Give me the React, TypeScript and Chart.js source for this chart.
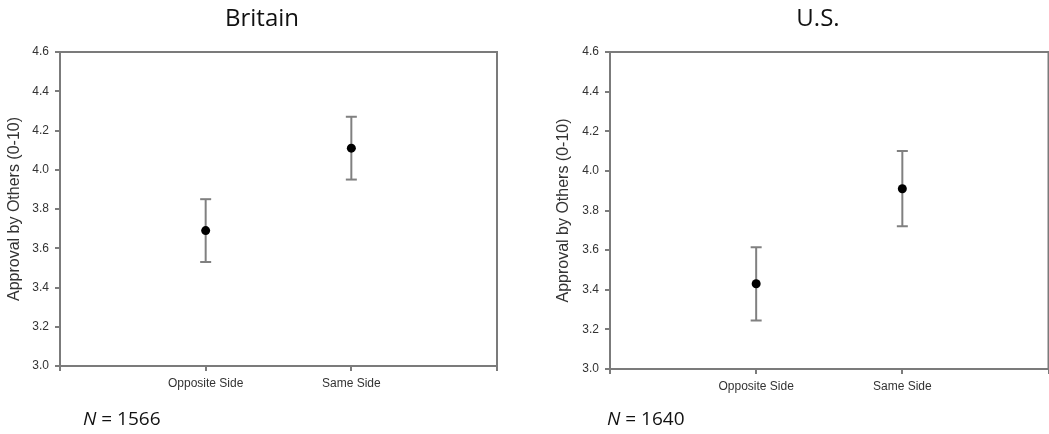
import React, { useEffect, useRef } from 'react';
import { Chart, registerables } from 'chart.js';

Chart.register(...registerables);

// ---- data ----
const categories = ['Opposite Side', 'Same Side'];
const xTickLabels = ['', ...categories, ''];
const yAxisTitle = 'Approval by Others (0-10)';
const yMin = 3.0;
const yMax = 4.6;
const yStep = 0.2;

const panelTitles = ['Britain', 'U.S.'];
const sampleSizes = [1566, 1640];

const britainMeans = [3.69, 4.11];
const britainLower = [3.53, 3.95];
const britainUpper = [3.85, 4.27];

const usMeans = [3.43, 3.91];
const usLower = [3.245, 3.72];
const usUpper = [3.615, 4.10];

const AXIS_GRAY = '#7b7b7b';
const BAR_GRAY = '#808080';
const TEXT_COLOR = '#333333';
const SANS = "'Liberation Sans', Arial, sans-serif";
const TITLE_FONT = "'Open Sans', sans-serif";

type Panel = {
  title: string;
  n: number;
  means: number[];
  lower: number[];
  upper: number[];
  canvasLeft: number;
  canvasWidth: number;
  yAxisWidth: number;
  xAxisHeight: number;
  padRight: number;
  yTitlePad: number;
  titleCenterX: number;
  nX: number;
};

const panels: Panel[] = [
  {
    title: panelTitles[0], n: sampleSizes[0],
    means: britainMeans, lower: britainLower, upper: britainUpper,
    canvasLeft: 0, canvasWidth: 520, yAxisWidth: 60, xAxisHeight: 68,
    padRight: 23, yTitlePad: 5.4, titleCenterX: 262, nX: 83,
  },
  {
    title: panelTitles[1], n: sampleSizes[1],
    means: usMeans, lower: usLower, upper: usUpper,
    canvasLeft: 530, canvasWidth: 526, yAxisWidth: 80, xAxisHeight: 65,
    padRight: 1, yTitlePad: 24.4, titleCenterX: 288, nX: 77,
  },
];

const HEIGHT = 434;

const panelTextPlugin = {
  id: 'panelText',
  afterDraw(chart: any, _args: any, opts: any) {
    const ctx = chart.ctx;
    ctx.save();
    ctx.fillStyle = '#111';
    ctx.textBaseline = 'alphabetic';
    ctx.font = `24px ${TITLE_FONT}`;
    ctx.textAlign = 'center';
    ctx.fillText(opts.title, opts.titleCenterX, 26);
    ctx.textAlign = 'left';
    ctx.font = `italic 19px ${TITLE_FONT}`;
    ctx.fillText('N', opts.nX, 425);
    const w = ctx.measureText('N').width;
    ctx.font = `19px ${TITLE_FONT}`;
    ctx.fillText(` = ${opts.n}`, opts.nX + w, 425);
    ctx.restore();
  },
};

const boxPlugin = {
  id: 'plotBox',
  beforeDatasetsDraw(chart: any) {
    const { ctx, chartArea } = chart;
    ctx.save();
    ctx.strokeStyle = AXIS_GRAY;
    ctx.lineWidth = 2;
    ctx.beginPath();
    ctx.moveTo(chartArea.left, chartArea.top);
    ctx.lineTo(chartArea.right, chartArea.top);
    ctx.lineTo(chartArea.right, chartArea.bottom);
    ctx.stroke();
    ctx.restore();
  },
};

function PanelChart({ p }: { p: Panel }) {
  const ref = useRef<HTMLCanvasElement>(null);
  useEffect(() => {
    if (!ref.current) return;
    const datasets: any[] = [];
    datasets.push({
      type: 'scatter',
      data: p.means.map((m, i) => ({ x: i + 1, y: m })),
      pointRadius: 4.5,
      pointBackgroundColor: '#000',
      pointBorderColor: '#000',
      pointBorderWidth: 0,
      showLine: false,
    });
    p.means.forEach((_, i) => {
      datasets.push({
        type: 'scatter',
        showLine: true,
        data: [
          { x: i + 1, y: p.lower[i] },
          { x: i + 1, y: p.upper[i] },
        ],
        borderColor: BAR_GRAY,
        borderWidth: 2,
        pointStyle: 'line',
        pointRadius: 5.5,
        pointBorderColor: BAR_GRAY,
        pointBackgroundColor: BAR_GRAY,
        pointBorderWidth: 2,
      });
    });
    const chart = new Chart(ref.current, {
      type: 'scatter',
      data: { datasets },
      options: {
        animation: false,
        responsive: false,
        maintainAspectRatio: false,
        layout: { padding: { top: 52, right: p.padRight, bottom: 0, left: 0 } },
        plugins: {
          legend: { display: false },
          tooltip: { enabled: false },
          panelText: { title: p.title, n: p.n, titleCenterX: p.titleCenterX, nX: p.nX },
        } as any,
        scales: {
          x: {
            type: 'linear',
            min: 0,
            max: categories.length + 1,
            afterBuildTicks: (scale: any) => {
              scale.ticks = xTickLabels.map((_, i) => ({ value: i }));
            },
            afterFit: (scale: any) => {
              scale.height = p.xAxisHeight;
              scale.paddingLeft = 0;
              scale.paddingRight = 0;
            },
            ticks: {
              autoSkip: false,
              maxRotation: 0,
              padding: 5,
              color: TEXT_COLOR,
              font: { family: SANS, size: 12 },
              callback: (v: any) => xTickLabels[Math.round(Number(v))] ?? '',
            },
            grid: { drawOnChartArea: false, drawTicks: true, tickLength: 5, color: AXIS_GRAY, lineWidth: 2 },
            border: { display: true, color: AXIS_GRAY, width: 2 },
          },
          y: {
            type: 'linear',
            min: yMin,
            max: yMax,
            afterFit: (scale: any) => {
              scale.width = p.yAxisWidth;
            },
            ticks: {
              stepSize: yStep,
              padding: 6,
              color: TEXT_COLOR,
              font: { family: SANS, size: 12 },
              callback: (v: any) => Number(v).toFixed(1),
            },
            title: {
              display: true,
              text: yAxisTitle,
              color: TEXT_COLOR,
              font: { family: SANS, size: 16 },
              padding: { top: p.yTitlePad, bottom: 0 },
            },
            grid: { drawOnChartArea: false, drawTicks: true, tickLength: 5, color: AXIS_GRAY, lineWidth: 2 },
            border: { display: true, color: AXIS_GRAY, width: 2 },
          },
        },
      } as any,
      plugins: [boxPlugin, panelTextPlugin],
    });
    return () => chart.destroy();
  }, [p]);
  return (
    <canvas
      ref={ref}
      width={p.canvasWidth}
      height={HEIGHT}
      style={{ position: 'absolute', left: p.canvasLeft, top: 0, width: p.canvasWidth, height: HEIGHT, display: 'block' }}
    />
  );
}

export default function App() {
  return (
    <div style={{ position: 'fixed', left: 0, top: 0, width: 1049, height: HEIGHT, background: '#fff', overflow: 'hidden' }}>
      {panels.map((p, i) => (
        <PanelChart key={i} p={p} />
      ))}
    </div>
  );
}
